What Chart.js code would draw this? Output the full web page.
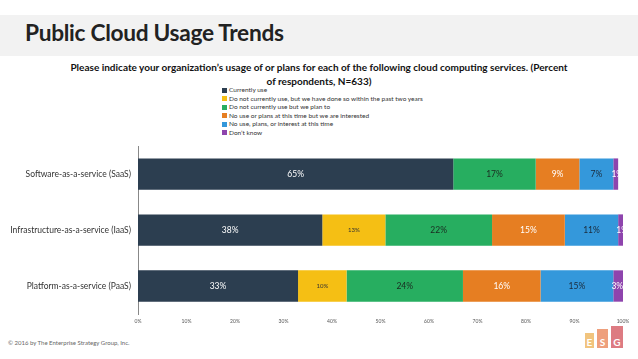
<!DOCTYPE html>
<html>
<head>
<meta charset="utf-8">
<script src="https://cdn.jsdelivr.net/npm/chart.js@4/dist/chart.umd.min.js"></script>
<style>
  body { margin: 0; width: 638px; height: 359px; background: #fff; font-family: Lato, "Open Sans", sans-serif; position: relative; overflow: hidden; }
  .band { position: absolute; left: 0; top: 15px; width: 638px; height: 41px; background: #f2f2f2; }
  .band h1 { margin: 0; position: absolute; left: 25px; top: 4px; font-size: 22.7px; font-weight: 700; color: #222; letter-spacing: -0.3px; }
  .sub { position: absolute; left: 0; width: 638px; top: 60px; text-align: center; font-size: 10px; font-weight: 700; color: #111; line-height: 14px; }
  #legend { position: absolute; left: 222px; top: 86px; font-size: 6.5px; color: #333; line-height: 8.6px; }
  #legend i { display: inline-block; width: 5px; height: 5px; margin-right: 2px; vertical-align: -0.5px; }
  .wrap { position: absolute; left: 0; top: 134px; width: 638px; height: 194px; }
  .foot { position: absolute; left: 8px; top: 339px; font-size: 6px; color: #666; }
  .logo span { position: absolute; color: #fff; font-weight: 700; font-size: 10px; text-align: center; line-height: 1; padding-bottom: 1px; box-sizing: border-box; display: flex; align-items: flex-end; justify-content: center; }
</style>
</head>
<body>
<div class="band"><h1>Public Cloud Usage Trends</h1></div>
<div class="sub">Please indicate your organization’s usage of or plans for each of the following cloud computing services. (Percent<br>of respondents, N=633)</div>
<div id="legend"></div>
<div class="wrap"><canvas id="usoNube"></canvas></div>
<div class="foot">© 2016 by The Enterprise Strategy Group, Inc.</div>
<div class="logo">
  <span style="left:585px;top:333px;width:9px;height:15px;background:#f1c47e">E</span>
  <span style="left:597px;top:329px;width:11px;height:19px;background:#ee9f7c">S</span>
  <span style="left:611px;top:326px;width:12px;height:22px;background:#dd7b82">G</span>
</div>
<script>
const categorias = ["Software-as-a-service (SaaS)", "Infrastructure-as-a-service (IaaS)", "Platform-as-a-service (PaaS)"];
const series = [
  "Currently use",
  "Do not currently use, but we have done so within the past two years",
  "Do not currently use but we plan to",
  "No use or plans at this time but we are interested",
  "No use, plans, or interest at this time",
  "Don’t know"
];
const usoActual = [65, 38, 33];
const usoPasado = [0, 13, 10];
const planeado = [17, 22, 24];
const interesado = [9, 15, 16];
const sinInteres = [7, 11, 15];
const noSabe = [1, 1, 3];
const ticksX = ["0%", "10%", "20%", "30%", "40%", "50%", "60%", "70%", "80%", "90%", "100%"];

const colores = ["#2c3e50", "#f5bf14", "#27ae60", "#e67e22", "#3498db", "#8e44ad"];
const coloresTexto = ["#fff", "#333", "#1b2a20", "#fff", "#1b2a3a", "#fff"];
const valores = [usoActual, usoPasado, planeado, interesado, sinInteres, noSabe];

// leyenda en HTML, una entrada por linea
let leyenda = document.getElementById("legend");
series.forEach((s, i) => {
  leyenda.innerHTML += '<div><i style="background:' + colores[i] + '"></i>' + s + "</div>";
});

// etiquetas de porcentaje dentro de cada segmento
const etiquetas = {
  id: "etiquetas",
  afterDatasetsDraw(chart) {
    let ctx = chart.ctx;
    chart.data.datasets.forEach((ds, i) => {
      let meta = chart.getDatasetMeta(i);
      meta.data.forEach((bar, j) => {
        let v = ds.data[j];
        if (!v) return;
        ctx.save();
        ctx.fillStyle = coloresTexto[i];
        ctx.font = (i == 1 ? "6px" : "8.5px") + " Lato, sans-serif";
        ctx.textAlign = "center";
        ctx.textBaseline = "middle";
        let x = (bar.x + bar.base) / 2;
        if (i == 5) x = bar.base + 4;
        ctx.fillText(v + "%", x, bar.y);
        ctx.restore();
      });
    });
  },
};

let canvas = document.getElementById("usoNube");
new Chart(canvas, {
  type: "bar",
  data: {
    labels: categorias,
    datasets: series.map((s, i) => ({
      label: s,
      data: valores[i],
      backgroundColor: colores[i],
      borderWidth: 0,
      barPercentage: 0.56,
      categoryPercentage: 1,
    })),
  },
  options: {
    indexAxis: "y",
    responsive: true,
    maintainAspectRatio: false,
    animation: false,
    layout: { padding: { top: 4, right: 15, left: 0, bottom: 0 } },
    plugins: { legend: { display: false }, tooltip: { enabled: false } },
    scales: {
      x: {
        stacked: true,
        min: 0,
        max: 100,
        grid: { display: false, drawTicks: false },
        border: { display: false },
        ticks: {
          stepSize: 10,
          color: "#555",
          font: { size: 5, family: "Lato" },
          padding: 4,
          callback: (v, i) => ticksX[i],
        },
      },
      y: {
        stacked: true,
        grid: { display: false, drawTicks: false },
        border: { display: true, color: "#888", width: 1 },
        afterFit: (s) => { s.width = 138; },
        ticks: { color: "#333", font: { size: 8.5, family: "Lato" }, padding: 7 },
      },
    },
  },
  plugins: [etiquetas],
});
</script>
</body>
</html>
